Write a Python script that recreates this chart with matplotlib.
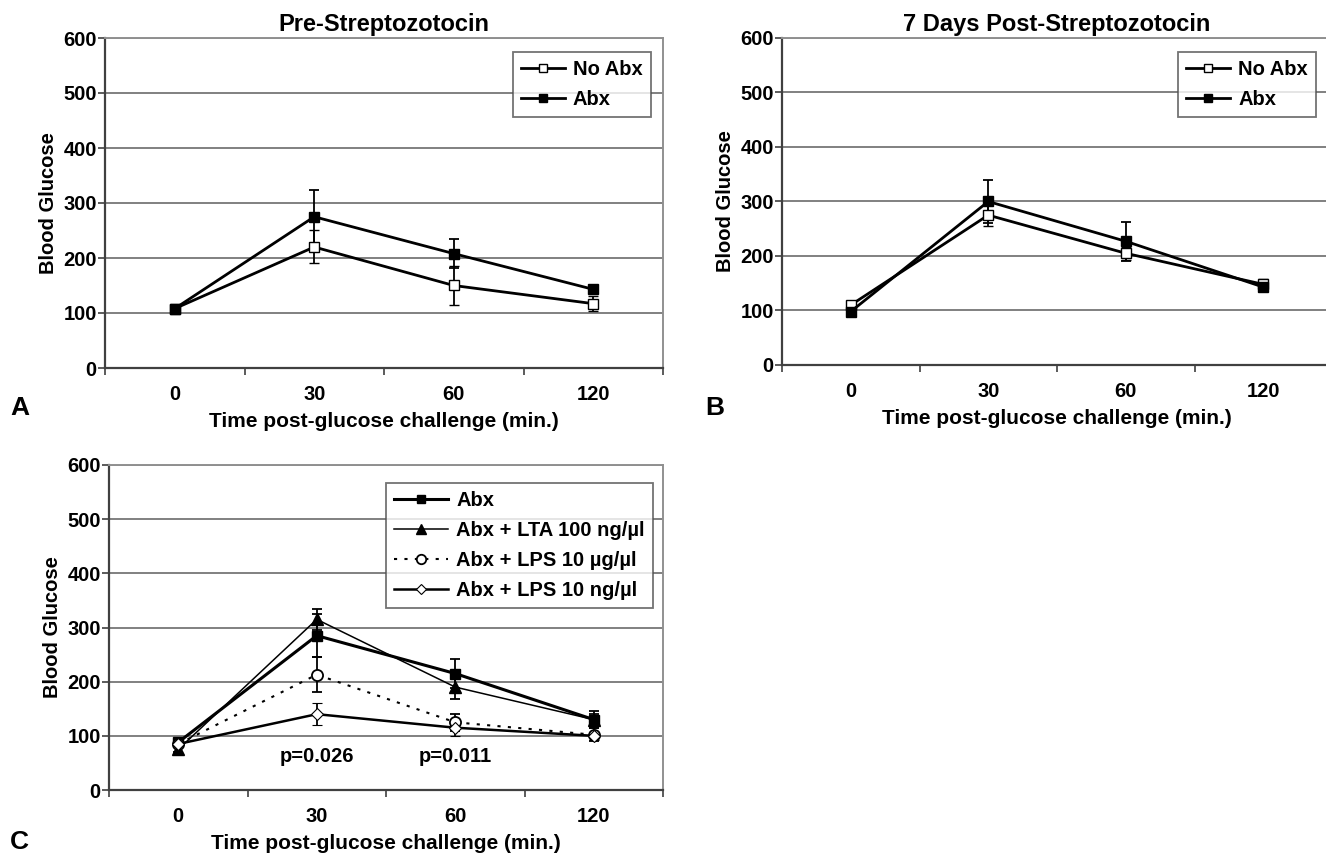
import numpy as np
import matplotlib
matplotlib.use("Agg")
import matplotlib.pyplot as plt

plt.rcParams['font.family'] = ['Liberation Sans', 'DejaVu Sans']
plt.rcParams['font.weight'] = 'bold'

# categories on the x axis
times = ["0", "30", "60", "120"]

# panel A - pre streptozotocin
a_noabx = [108, 220, 150, 117]
a_noabx_err = [3, 30, 36, 13]
a_abx = [108, 275, 208, 143]
a_abx_err = [3, 48, 27, 5]

# panel B - 7 days post streptozotocin
b_noabx = [110, 275, 205, 148]
b_noabx_err = [3, 20, 12, 10]
b_abx = [98, 300, 227, 143]
b_abx_err = [3, 40, 36, 5]

# panel C
c_abx = [88, 285, 215, 130]
c_abx_err = [5, 40, 27, 15]
c_lta = [75, 315, 190, 130]
c_lta_err = [4, 20, 22, 10]
c_lps_ug = [85, 213, 125, 102]
c_lps_ug_err = [4, 32, 16, 12]
c_lps_ng = [85, 140, 115, 100]
c_lps_ng_err = [4, 20, 15, 8]

p_labels = ["p=0.026", "p=0.011"]
p_pos = [1, 2]

W, H = 1326, 855
fig = plt.figure(figsize=(W / 100, H / 100), dpi=100)

FS = 14.5


def make_ax(left, right, top, bottom):
    ax = fig.add_axes([left / W, 1 - bottom / H, (right - left) / W, (bottom - top) / H])
    ax.set_xlim(-0.5, 3.5)
    ax.set_ylim(0, 600)
    ax.set_yticks(range(0, 601, 100))
    ax.set_yticklabels([str(v) for v in range(0, 601, 100)], fontsize=FS, fontweight='bold')
    ax.yaxis.grid(True, color='#808080', lw=1.4)
    ax.set_axisbelow(True)
    ax.set_xticks([-0.5, 0.5, 1.5, 2.5, 3.5])
    ax.set_xticklabels([])
    ax.set_xticks(range(4), minor=True)
    ax.set_xticklabels(times, minor=True, fontsize=FS, fontweight='bold')
    ax.tick_params(axis='x', which='minor', length=0, pad=12)
    ax.tick_params(axis='x', which='major', length=5, color='#404040', width=1.2)
    ax.tick_params(axis='y', length=5, color='#404040', width=1.2, pad=1)
    for s in ['left', 'bottom']:
        ax.spines[s].set_color('#404040')
        ax.spines[s].set_linewidth(1.6)
    for s in ['top', 'right']:
        ax.spines[s].set_color('#909090')
        ax.spines[s].set_linewidth(1.4)
    ax.set_ylabel("Blood Glucose", fontsize=FS, fontweight='bold', labelpad=4)
    ax.set_xlabel("Time post-glucose challenge (min.)", fontsize=15, fontweight='bold', labelpad=6)
    return ax


def add_legend(ax, anchor, hl):
    h, l = ax.get_legend_handles_labels()
    h = [hh[0] for hh in h]
    leg = ax.legend(h, l, loc='upper right', bbox_to_anchor=anchor, borderaxespad=0,
                    fontsize=FS, frameon=True, fancybox=False, edgecolor='#505050',
                    handlelength=hl, handletextpad=0.4, borderpad=0.4, labelspacing=0.55,
                    markerscale=0.85)
    leg.get_frame().set_linewidth(1.3)


x = np.arange(4)
eb = dict(ecolor='black', elinewidth=1.3, capsize=3.5, capthick=1.3)

# A
ax1 = make_ax(105, 663, 38, 368)
ax1.errorbar(x, a_noabx, yerr=a_noabx_err, color='black', lw=2, marker='s', ms=7.5,
             mfc='white', mec='black', mew=1, label='No Abx', **eb)
ax1.errorbar(x, a_abx, yerr=a_abx_err, color='black', lw=2, marker='s', ms=7.5,
             mfc='black', mec='black', label='Abx', **eb)
ax1.set_title("Pre-Streptozotocin", fontsize=17, fontweight='bold', pad=5)
add_legend(ax1, (0.978, 0.958), 2.2)

# B
ax2 = make_ax(782, 1332, 38, 365)
ax2.errorbar(x, b_noabx, yerr=b_noabx_err, color='black', lw=2, marker='s', ms=7.5,
             mfc='white', mec='black', mew=1, label='No Abx', **eb)
ax2.errorbar(x, b_abx, yerr=b_abx_err, color='black', lw=2, marker='s', ms=7.5,
             mfc='black', mec='black', label='Abx', **eb)
ax2.set_title("7 Days Post-Streptozotocin", fontsize=17, fontweight='bold', pad=5)
add_legend(ax2, (0.971, 0.958), 2.2)

# C
ax3 = make_ax(109, 663, 465, 790)
ax3.errorbar(x, c_abx, yerr=c_abx_err, color='black', lw=2.2, marker='s', ms=7.5,
             mfc='black', mec='black', label='Abx', **eb)
ax3.errorbar(x, c_lta, yerr=c_lta_err, color='black', lw=1.1, marker='^', ms=9,
             mfc='black', mec='black', label='Abx + LTA 100 ng/µl', **eb)
ax3.errorbar(x, c_lps_ug, yerr=c_lps_ug_err, color='black', lw=1.5, ls=(0, (1.5, 3.5)), marker='o', ms=8,
             mfc='white', mec='black', mew=1.3, label='Abx + LPS 10 µg/µl', **eb)
ax3.errorbar(x, c_lps_ng, yerr=c_lps_ng_err, color='black', lw=1.8, marker='D', ms=6,
             mfc='white', mec='black', mew=0.8, label='Abx + LPS 10 ng/µl', **eb)
for xp, t in zip(p_pos, p_labels):
    ax3.text(xp, 62, t, ha='center', va='center', fontsize=FS, fontweight='bold')
add_legend(ax3, (0.982, 0.945), 2.7)

fig.text(10 / W, 1 - 408 / H, "A", fontsize=19, fontweight='bold', va='center')
fig.text(705 / W, 1 - 408 / H, "B", fontsize=19, fontweight='bold', va='center')
fig.text(10 / W, 1 - 842 / H, "C", fontsize=19, fontweight='bold', va='center')

fig.savefig("out.png", dpi=100)
